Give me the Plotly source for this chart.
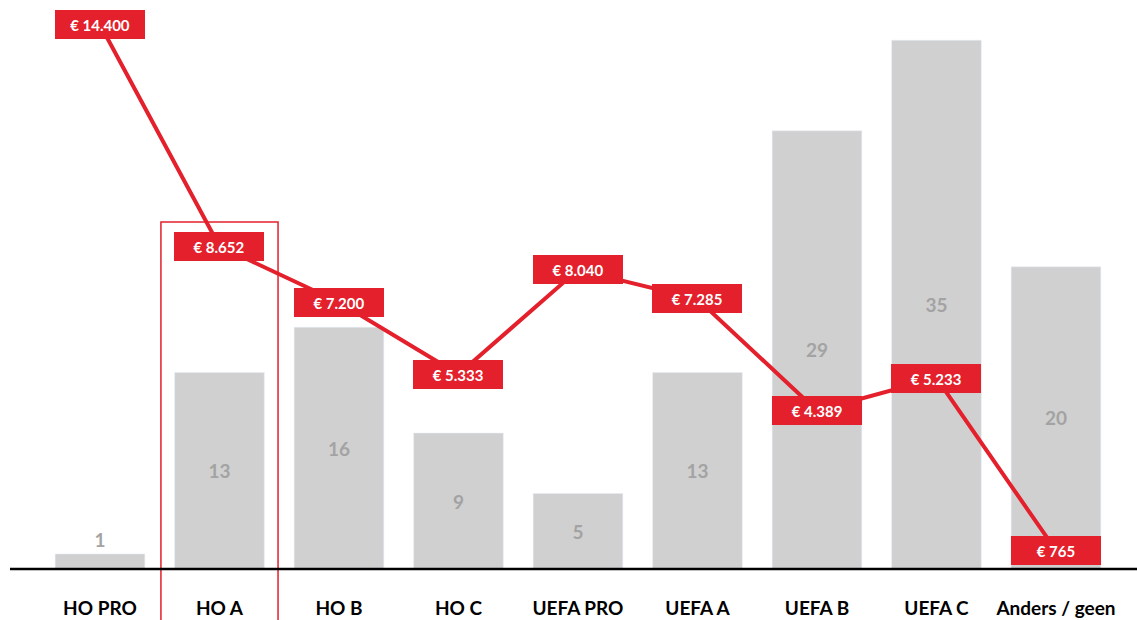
import plotly.graph_objects as go

categories = ["HO PRO", "HO A", "HO B", "HO C", "UEFA PRO", "UEFA A", "UEFA B", "UEFA C", "Anders / geen"]
counts = [1, 13, 16, 9, 5, 13, 29, 35, 20]
salaries = [14400, 8652, 7200, 5333, 8040, 7285, 4389, 5233, 765]
salary_labels = ["€ 14.400", "€ 8.652", "€ 7.200", "€ 5.333", "€ 8.040", "€ 7.285", "€ 4.389", "€ 5.233", "€ 765"]
highlight = "HO A"

RED = "#e3202b"
BAR = "#d0d0d0"
FONT = "Lato"

fig = go.Figure()
fig.add_trace(go.Bar(
    x=categories, y=counts, marker_color=BAR, width=0.75,
    text=[str(c) for c in counts],
    textposition=["outside" if c < 3 else "inside" for c in counts],
    insidetextanchor="middle",
    textfont=dict(family=FONT, size=19, color="#a3a3a3", weight="bold"),
    outsidetextfont=dict(family=FONT, size=19, color="#a3a3a3", weight="bold"),
    insidetextfont=dict(family=FONT, size=19, color="#a3a3a3", weight="bold"),
    cliponaxis=False, hoverinfo="skip",
))
fig.add_trace(go.Scatter(
    x=categories, y=salaries, yaxis="y2", mode="lines",
    line=dict(color=RED, width=4), hoverinfo="skip",
))

annotations = []
for c, v, lab in zip(categories, salaries, salary_labels):
    annotations.append(dict(
        x=c, y=v, xref="x", yref="y2", text="<b>" + lab + "</b>", showarrow=False,
        bgcolor=RED, width=86, height=25, borderpad=2, borderwidth=0,
        font=dict(family=FONT, size=15, color="white"), align="center", valign="middle",
    ))

hi = categories.index(highlight)
fig.add_shape(type="rect", xref="x", yref="paper", x0=hi - 0.49, x1=hi + 0.49,
              y0=-0.2, y1=0.61, line=dict(color=RED, width=1.5), fillcolor="rgba(0,0,0,0)", layer="above")
fig.add_shape(type="line", xref="paper", yref="paper", x0=0, x1=1, y0=0, y1=0,
              line=dict(color="black", width=2.5), layer="above")

fig.update_layout(
    width=1137, height=620, margin=dict(l=10, r=0, t=0, b=51),
    paper_bgcolor="white", plot_bgcolor="white", showlegend=False,
    annotations=annotations, bargap=0.25,
    xaxis=dict(range=[-0.753, 8.678], showgrid=False, zeroline=False, showline=False,
               ticks="", tickfont=dict(family=FONT, size=19, color="black", weight="bold"),
               ticklabelstandoff=26),
    yaxis=dict(range=[0, 37.66], visible=False, showgrid=False, zeroline=False),
    yaxis2=dict(range=[285, 15034], overlaying="y", visible=False, showgrid=False, zeroline=False),
)
fig.write_html("out.html")
